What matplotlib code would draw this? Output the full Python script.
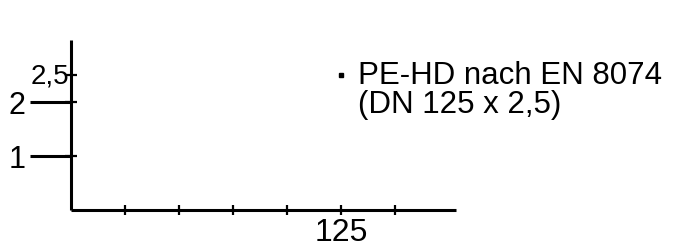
import matplotlib
matplotlib.use("Agg")
import matplotlib.pyplot as plt
import matplotlib.transforms as mtransforms

plt.rcParams['font.family'] = ['Liberation Sans', 'DejaVu Sans']

# data
x_ticks = [25, 50, 75, 100, 125, 150]
x_labels = ['', '', '', '', '125', '']
y_major = [1, 2]
y_major_labels = ['1', '2']
y_minor = [1, 2, 2.5]
y_minor_labels = ['', '', '2,5']
point_x = [125]
point_y = [2.5]
point_label = "PE-HD nach EN 8074\n(DN 125 x 2,5)"

W, H = 673, 247
fig = plt.figure(figsize=(W / 100, H / 100), dpi=100)
# origin at (71, 210) px, 54 px per y unit, 54 px per 25 x units
ax = fig.add_axes([71 / W, (H - 210) / H, 385 / W, 170 / H])
ax.set_xlim(0, 385 / 54 * 25)
ax.set_ylim(0, 170 / 54)

for s in ['top', 'right']:
    ax.spines[s].set_visible(False)
for s in ['left', 'bottom']:
    ax.spines[s].set_linewidth(2.2)
    ax.spines[s].set_capstyle('butt')

ax.set_xticks(x_ticks)
ax.set_xticklabels(x_labels, fontsize=23)
ax.tick_params(axis='x', direction='inout', length=7.5, width=1.6, pad=2)

ax.yaxis.remove_overlapping_locs = False
ax.set_yticks(y_major)
ax.set_yticklabels(y_major_labels, fontsize=22)
ax.tick_params(axis='y', which='major', direction='out', length=29.5, width=2.2, pad=3)
ax.set_yticks(y_minor, minor=True)
ax.set_yticklabels(y_minor_labels, minor=True, fontsize=20)
ax.tick_params(axis='y', which='minor', direction='inout', length=8, width=1.6, pad=-2.5)
off = mtransforms.ScaledTranslation(0, 2 / 100, fig.dpi_scale_trans)
for lab in ax.yaxis.get_minorticklabels():
    lab.set_transform(lab.get_transform() + off)

ax.plot(point_x, point_y, 's', color='black', markersize=3.4, clip_on=False)
for px, py in zip(point_x, point_y):
    ax.annotate(point_label, (px, py), xytext=(12, -27.4), textcoords='offset points',
                ha='left', va='baseline', fontsize=22.5, linespacing=0.97)

fig.savefig('out.png', dpi=100)
